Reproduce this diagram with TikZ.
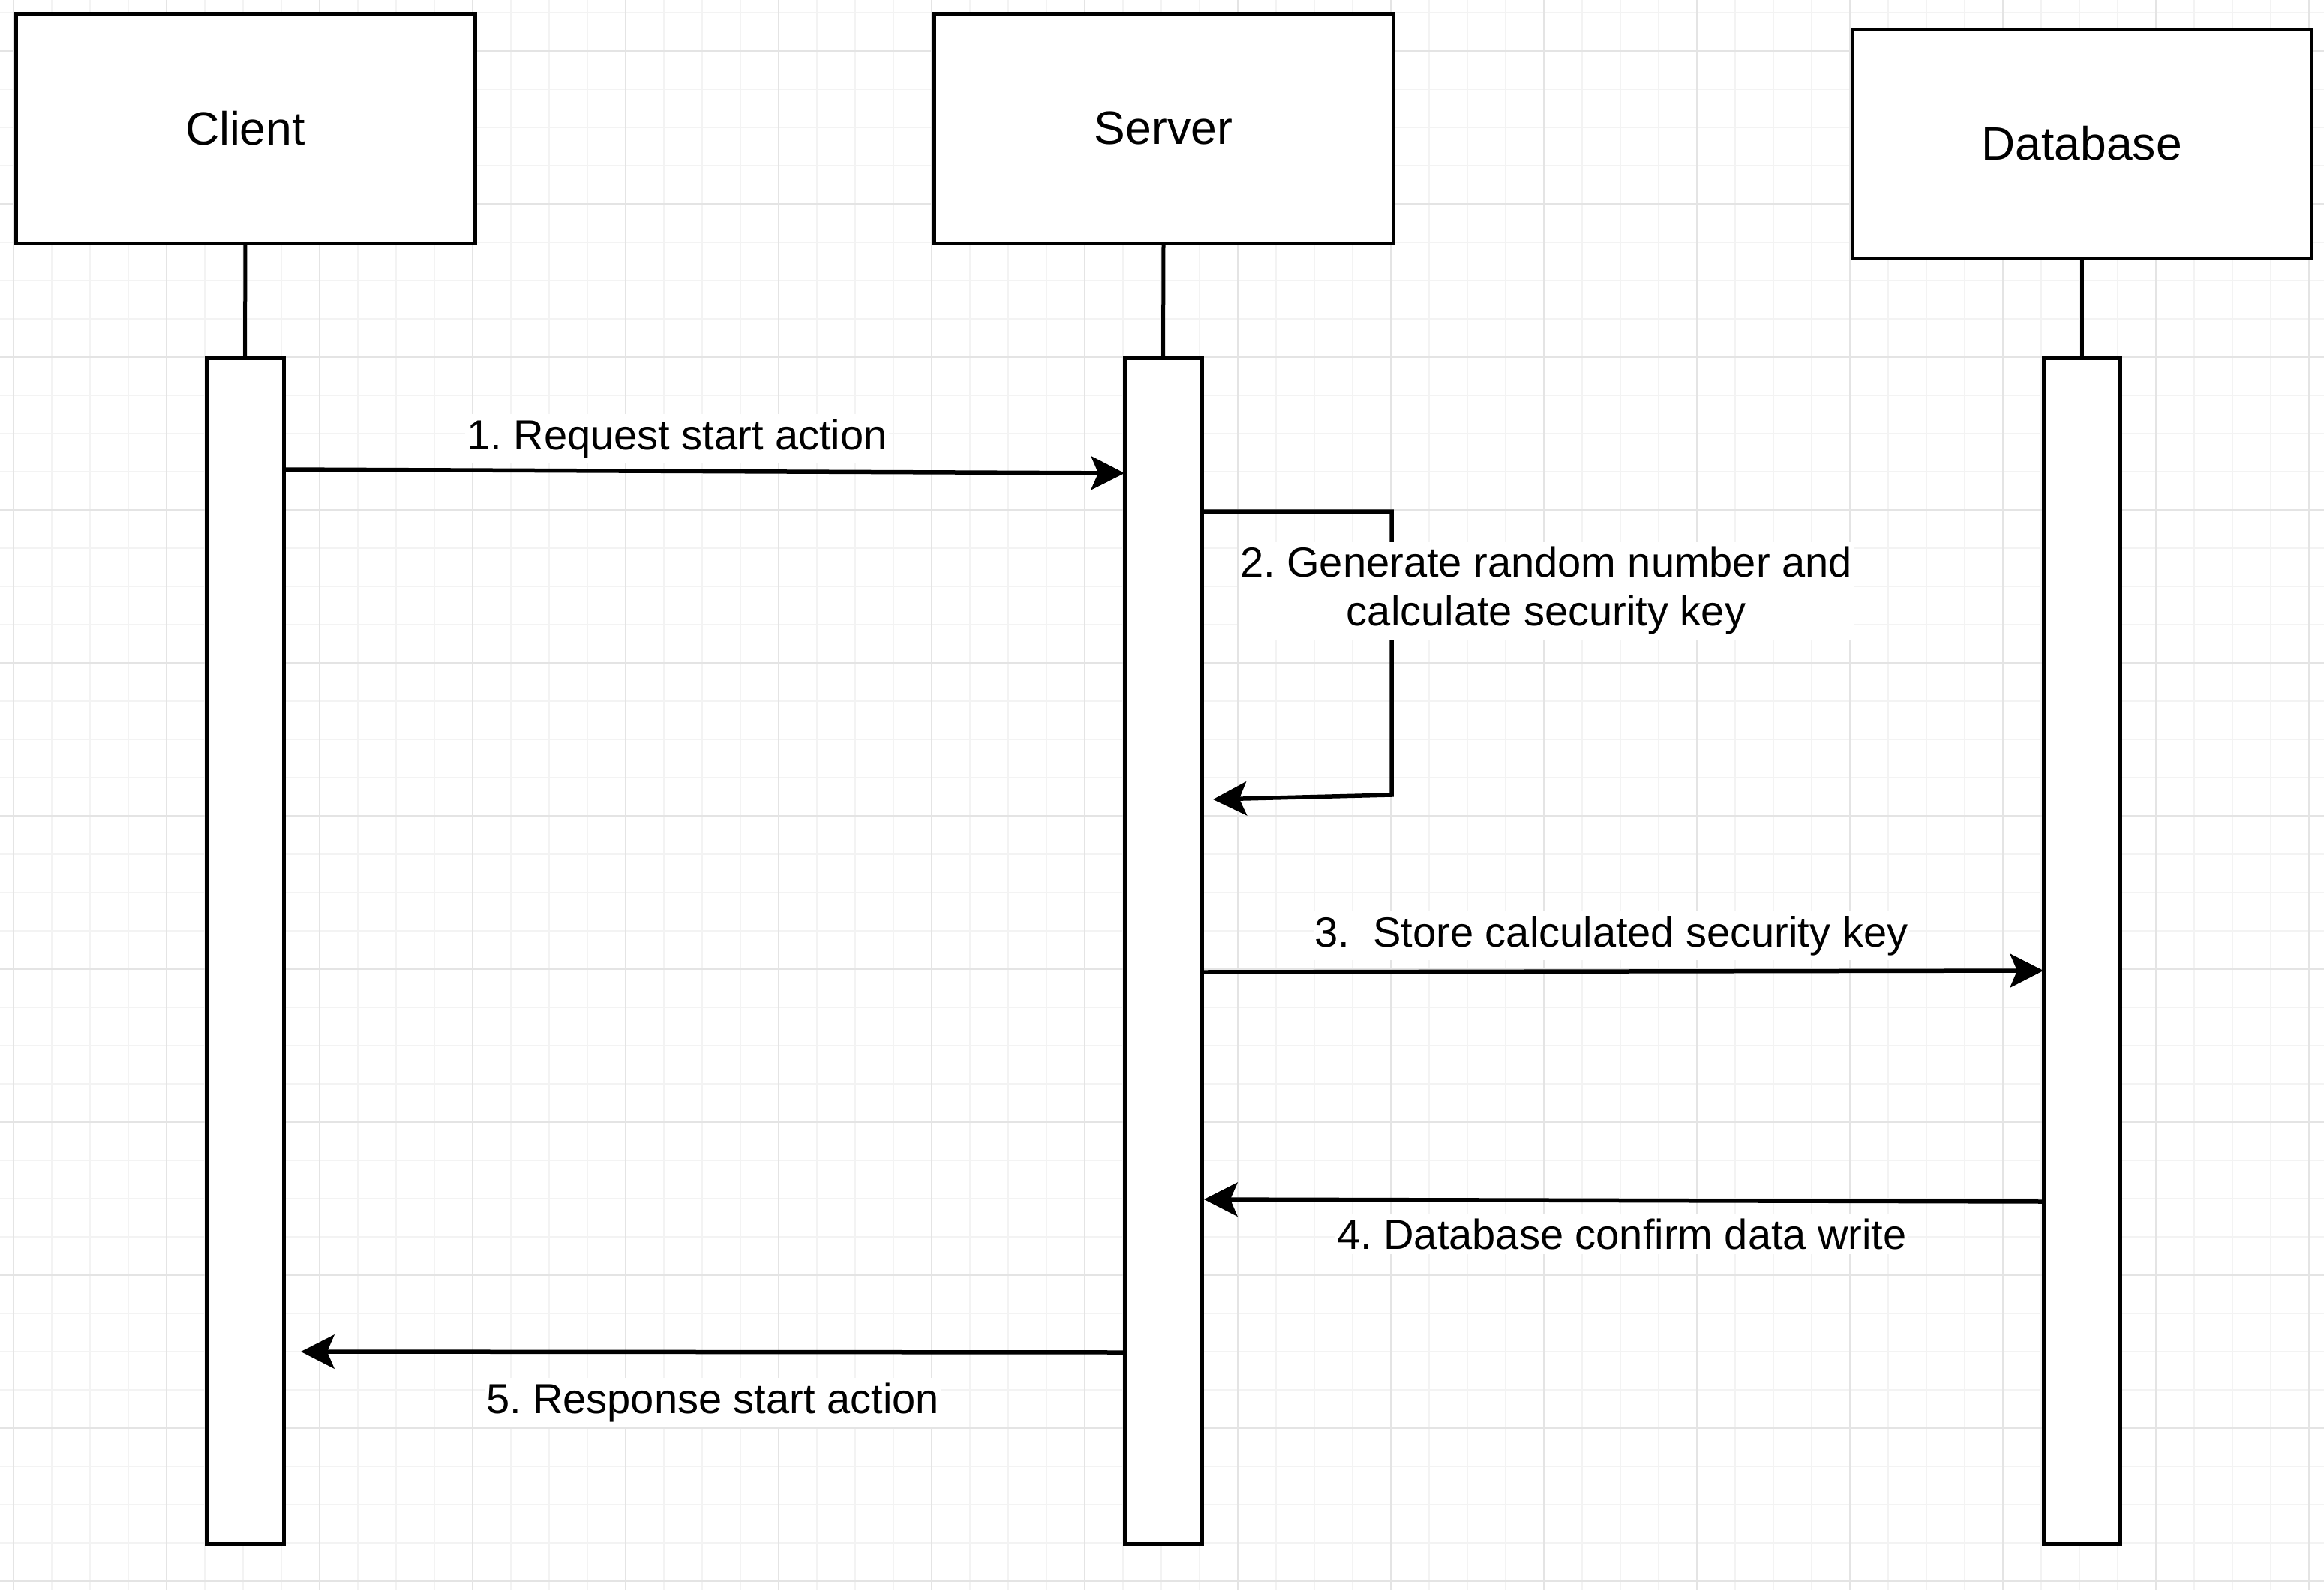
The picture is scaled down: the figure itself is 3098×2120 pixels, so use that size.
\documentclass[tikz,border=0pt]{standalone}
\usepackage{fontspec}
\setmainfont{Liberation Sans}
\usetikzlibrary{arrows.meta,calc}
\definecolor{gridminor}{RGB}{243,243,243}
\definecolor{gridmajor}{RGB}{228,228,228}
\frenchspacing
\begin{document}
\begin{tikzpicture}[x=1pt,y=-1pt,
  actor/.style={draw,line width=5pt,fill=white,minimum width=612pt,minimum height=306pt,
    outer sep=0pt,inner sep=0pt,font=\fontsize{62.5}{75}\selectfont},
  activ/.style={draw,line width=5pt,fill=white,minimum width=103pt,minimum height=1581pt,
    outer sep=0pt,inner sep=0pt},
  life/.style={line width=5pt},
  msg/.style={line width=5.5pt,-{Stealth[length=45pt,width=46pt,inset=10pt,line width=0pt]}},
  lbl/.style={fill=white,inner xsep=2pt,inner ysep=6pt,font=\fontsize{56}{65}\selectfont}]
\useasboundingbox (0,0) rectangle (3098,2120);
\fill[white] (0,0) rectangle (3098,2120);
% grid
\foreach \k in {0,...,60} \draw[gridminor,line width=2pt] ({18+51*\k},0) -- ({18+51*\k},2120);
\foreach \k in {0,...,41} \draw[gridminor,line width=2pt] (0,{17+51*\k}) -- (3098,{17+51*\k});
\foreach \k in {0,...,15} \draw[gridmajor,line width=2.5pt] ({18+204*\k},0) -- ({18+204*\k},2120);
\foreach \k in {0,...,10} \draw[gridmajor,line width=2.5pt] (0,{68+204*\k}) -- (3098,{68+204*\k});
% participants
\node[actor] (client) at (327,171) {Client};
\node[actor] (server) at (1551,171) {Server};
\node[actor,minimum height=305pt] (db) at (2775,191.5) {Database};
% activations
\node[activ] (ca) at (326.5,1267.5) {};
\node[activ] (sa) at (1550.5,1267.5) {};
\node[activ,minimum width=102pt] (da) at (2775,1267.5) {};
% lifelines
\draw[life] (client.south) -- (ca.north);
\draw[life] (server.south) -- (sa.north);
\draw[life] (db.south) -- (da.north);
% messages
\draw[msg] ([yshift=-149pt]ca.north east) -- ([yshift=-154pt]sa.north west);
\coordinate (l1) at (1855,682);
\coordinate (l2) at (1855,1060);
\coordinate (l3) at (1617,1066);
\draw[msg] ([yshift=-205pt]sa.north east) -- (l1) -- (l2) -- (l3);
\draw[msg] ([yshift=-819pt]sa.north east) -- ([yshift=-817pt]da.north west);
\draw[msg] ([yshift=-1125pt]da.north west) -- ([xshift=3pt,yshift=-1122pt]sa.north east);
\draw[msg] ([yshift=-1326pt]sa.north west) -- ([xshift=23pt,yshift=-1325pt]ca.north east);
% labels
\node[lbl,anchor=base] (m1) at (902.5,599) {1. Request start action};
\node[lbl,align=center] (m2) at (2061,788) {2. Generate random number and\\calculate security key};
\node[lbl,anchor=base] (m3) at (2148,1262) {3.\ \ Store calculated security key};
\node[lbl,anchor=base] (m4) at (2162,1665) {4. Database confirm data write};
\node[lbl,anchor=base] (m5) at (950,1884) {5. Response start action};
\end{tikzpicture}
\end{document}
